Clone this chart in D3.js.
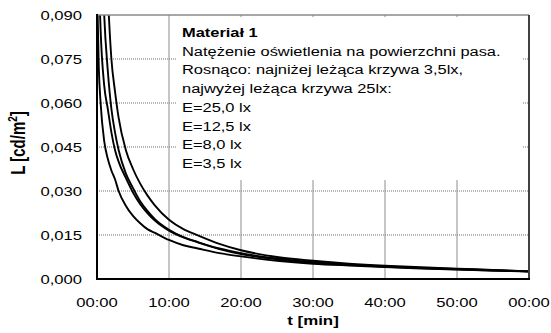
<html lang="pl">
<head>
<meta charset="utf-8">
<title>Materiał 1</title>
<script src="https://cdn.jsdelivr.net/npm/d3@7"></script>
<style>
  body { margin: 0; background: #fff; }
  text { font-family: "Liberation Sans", Arial, sans-serif; fill: #000; }
</style>
</head>
<body></body>

<script type="text/javascript">

/*********************************************************************/
// Data (t in minutes, L in cd/m2)

var times = [0, 0.25, 0.5, 1, 1.5, 2, 2.5, 3, 4, 5, 6, 7, 8, 10, 12, 14, 17, 20, 25, 30, 35, 40, 45, 50, 55, 60];

var L_25_0 = [0.300, 0.250, 0.200, 0.135, 0.098, 0.075, 0.064, 0.055, 0.044, 0.0375, 0.0325, 0.0285, 0.0252, 0.0202, 0.0170, 0.0149, 0.0120, 0.0098, 0.0075, 0.0062, 0.0052, 0.0045, 0.0040, 0.0035, 0.0031, 0.0026];
var L_12_5 = [0.200, 0.160, 0.130, 0.090, 0.071, 0.058, 0.050, 0.044, 0.036, 0.0310, 0.0265, 0.0232, 0.0205, 0.0168, 0.0143, 0.0126, 0.0104, 0.0088, 0.0070, 0.0057, 0.0049, 0.0043, 0.0038, 0.0034, 0.0030, 0.0026];
var L_8_0  = [0.140, 0.105, 0.085, 0.066, 0.058, 0.050, 0.044, 0.040, 0.0345, 0.0295, 0.0255, 0.0225, 0.0200, 0.0165, 0.0142, 0.0125, 0.0102, 0.0085, 0.0067, 0.0055, 0.0048, 0.0042, 0.0037, 0.0033, 0.0029, 0.0025];
var L_3_5  = [0.100, 0.072, 0.060, 0.047, 0.041, 0.037, 0.034, 0.030, 0.025, 0.0215, 0.0190, 0.0170, 0.0158, 0.0133, 0.0115, 0.0104, 0.0088, 0.0077, 0.0062, 0.0052, 0.0046, 0.0041, 0.0036, 0.0032, 0.0029, 0.0026];

var series = [L_25_0, L_12_5, L_8_0, L_3_5];

var xTicks = [0, 10, 20, 30, 40, 50, 60];
var xTickLabels = ["00:00", "10:00", "20:00", "30:00", "40:00", "50:00", "00:00"];
var yTicks = [0, 0.015, 0.030, 0.045, 0.060, 0.075, 0.090];
var yTickLabels = ["0,000", "0,015", "0,030", "0,045", "0,060", "0,075", "0,090"];

var legendLines = [
	"Natężenie oświetlenia na powierzchni pasa.",
	"Rosnąco: najniżej leżąca krzywa 3,5lx,",
	"najwyżej leżąca krzywa 25lx:",
	"E=25,0 lx",
	"E=12,5 lx",
	"E=8,0 lx",
	"E=3,5 lx"
];

/*********************************************************************/
// Canvas

var width = 551, height = 333;
var margin = {left: 97, right: 22, top: 15, bottom: 54};
var stretch = 1.37;	// the original picture is stretched sideways

var svg = d3.select("body")
	.append("svg")
	.attr("width", width)
	.attr("height", height);

var x = d3.scaleLinear().domain([0, 60]).range([margin.left, width - margin.right]);
var y = d3.scaleLinear().domain([0, 0.090]).range([height - margin.bottom, margin.top]);

svg.append("defs").append("clipPath")
	.attr("id", "plotClip")
	.append("rect")
	.attr("x", x(0))
	.attr("y", y(0.090))
	.attr("width", x(60) - x(0))
	.attr("height", y(0) - y(0.090));

/*********************************************************************/
// Grid

svg.append("g")
	.selectAll("line")
	.data(yTicks.slice(1, -1))
	.enter()
	.append("line")
	.attr("x1", x(0))
	.attr("x2", x(60))
	.attr("y1", function(d){ return y(d); })
	.attr("y2", function(d){ return y(d); })
	.style("stroke", "#707070")
	.style("stroke-width", 1)
	.style("stroke-dasharray", "1,1");

svg.append("g")
	.selectAll("line")
	.data(xTicks.slice(1, -1))
	.enter()
	.append("line")
	.attr("x1", function(d){ return x(d); })
	.attr("x2", function(d){ return x(d); })
	.attr("y1", y(0.090))
	.attr("y2", y(0))
	.style("stroke", "#8c8c8c")
	.style("stroke-width", 1);

/*********************************************************************/
// Legend box (covers the grid)

svg.append("rect")
	.attr("x", 176)
	.attr("y", 17)
	.attr("width", 347)
	.attr("height", 163)
	.style("fill", "#fff");

var legend = svg.append("g");

legend.append("text")
	.attr("transform", "translate(182,37) scale(" + stretch + ",1)")
	.style("font-size", "12px")
	.style("font-weight", "bold")
	.text("Materiał 1");

legend.selectAll("text.line")
	.data(legendLines)
	.enter()
	.append("text")
	.attr("class", "line")
	.attr("transform", function(d, i){ return "translate(182," + (55.7 + i*18.7) + ") scale(" + stretch + ",1)"; })
	.style("font-size", "12px")
	.text(function(d){ return d; });

/*********************************************************************/
// Curves

var line = d3.line()
	.x(function(d){ return x(d[0]); })
	.y(function(d){ return y(d[1]); })
	.curve(d3.curveMonotoneX);

svg.append("g")
	.attr("clip-path", "url(#plotClip)")
	.selectAll("path")
	.data(series)
	.enter()
	.append("path")
	.attr("d", function(s){ return line(times.map(function(t, i){ return [t, s[i]]; })); })
	.style("fill", "none")
	.style("stroke", "#000")
	.style("stroke-width", 1.9)
	.style("stroke-linejoin", "round");

/*********************************************************************/
// Frame

svg.append("line")
	.attr("x1", x(0)).attr("x2", x(60))
	.attr("y1", y(0.090)).attr("y2", y(0.090))
	.style("stroke", "#8a8a8a").style("stroke-width", 1.5);

svg.append("line")
	.attr("x1", x(60)).attr("x2", x(60))
	.attr("y1", y(0.090)).attr("y2", y(0))
	.style("stroke", "#404040").style("stroke-width", 2);

svg.append("line")
	.attr("x1", x(0)).attr("x2", x(0))
	.attr("y1", y(0.090) - 1).attr("y2", y(0) + 1)
	.style("stroke", "#000").style("stroke-width", 2);

svg.append("line")
	.attr("x1", x(0) - 1).attr("x2", x(60) + 1)
	.attr("y1", y(0)).attr("y2", y(0))
	.style("stroke", "#000").style("stroke-width", 2);

/*********************************************************************/
// Tick labels

svg.append("g")
	.selectAll("text")
	.data(yTicks)
	.enter()
	.append("text")
	.attr("transform", function(d){ return "translate(82," + (y(d) + 4.6) + ") scale(1.28,1)"; })
	.style("font-size", "13px")
	.style("text-anchor", "end")
	.text(function(d, i){ return yTickLabels[i]; });

svg.append("g")
	.selectAll("text")
	.data(xTicks)
	.enter()
	.append("text")
	.attr("transform", function(d){ return "translate(" + x(d) + ",307) scale(1.28,1)"; })
	.style("font-size", "13px")
	.style("text-anchor", "middle")
	.text(function(d, i){ return xTickLabels[i]; });

/*********************************************************************/
// Axis titles

svg.append("text")
	.attr("transform", "translate(" + (x(0) + x(60))/2 + ",325) scale(1.3,1)")
	.style("font-size", "13px")
	.style("font-weight", "bold")
	.style("text-anchor", "middle")
	.text("t [min]");

var yTitle = svg.append("text")
	.attr("transform", "translate(25,143) scale(1.3,1) rotate(-90)")
	.style("font-size", "15px")
	.style("font-weight", "bold")
	.style("text-anchor", "middle");
yTitle.append("tspan").text("L [cd/m");
yTitle.append("tspan").attr("dy", -6).style("font-size", "10px").text("2");
yTitle.append("tspan").attr("dy", 6).text("]");

</script>
</html>
